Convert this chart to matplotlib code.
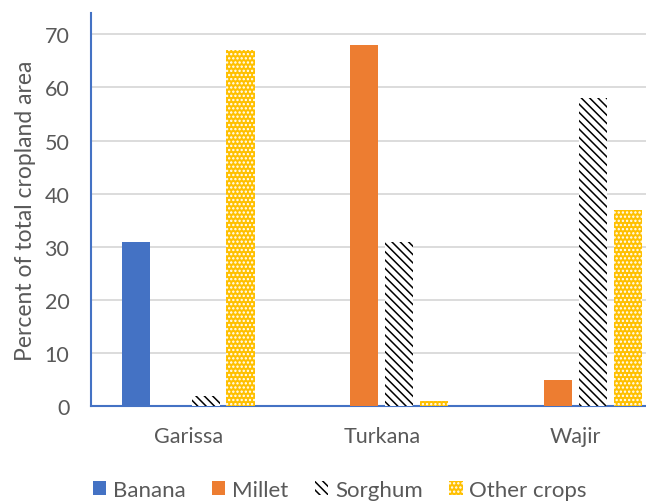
import matplotlib.pyplot as plt
import numpy as np

plt.rcParams['font.family'] = ['Lato', 'DejaVu Sans']
plt.rcParams['hatch.linewidth'] = 1.1

# 各县作物面积占比（%）
counties = ['Garissa', 'Turkana', 'Wajir']
crops = ['Banana', 'Millet', 'Sorghum', 'Other crops']
banana = [31, 0, 0]
millet = [0, 68, 5]
sorghum = [2, 31, 58]
other = [67, 1, 37]

series = [banana, millet, sorghum, other]
faces = ['#4472C4', '#ED7D31', 'white', '#FFC000']
edges = ['#4472C4', '#ED7D31', 'black', 'white']
hatches = [None, None, '\\\\\\\\', '....']

fig = plt.figure(figsize=(6.46, 5.02), dpi=100)
ax = fig.add_axes([0.1416, 0.1886, 0.899, 0.7835])

x = np.arange(len(counties))
w = 0.145
step = 0.18
for i, vals in enumerate(series):
    ax.bar(x + (i - 1.5) * step, vals, width=w,
           color=faces[i], edgecolor=edges[i], hatch=hatches[i],
           linewidth=0, label=crops[i], zorder=3)

ax.set_xlim(-0.5, 2.5)
ax.set_ylim(0, 74)
ax.set_yticks(range(0, 80, 10))
ax.set_xticks(x)
ax.set_xticklabels(counties)
ax.tick_params(length=0, colors='#595959', labelsize=15.5)
ax.tick_params(axis='y', pad=16)
ax.tick_params(axis='x', pad=14)
ax.set_ylabel('Percent of total cropland area', fontsize=16.5, color='#595959', labelpad=6)

ax.grid(axis='y', color='#D9D9D9', linewidth=1.3, zorder=0)
for s in ['top', 'right']:
    ax.spines[s].set_visible(False)
for s in ['left', 'bottom']:
    ax.spines[s].set_color('#4472C4')
    ax.spines[s].set_linewidth(1.5)

leg = fig.legend(loc='center', bbox_to_anchor=(0.526, 0.022), ncol=4, frameon=False,
                 fontsize=16, handlelength=0.6, handleheight=0.6, handletextpad=0.3,
                 columnspacing=1.2, labelcolor='#595959')

fig.savefig('out.png', dpi=100)
